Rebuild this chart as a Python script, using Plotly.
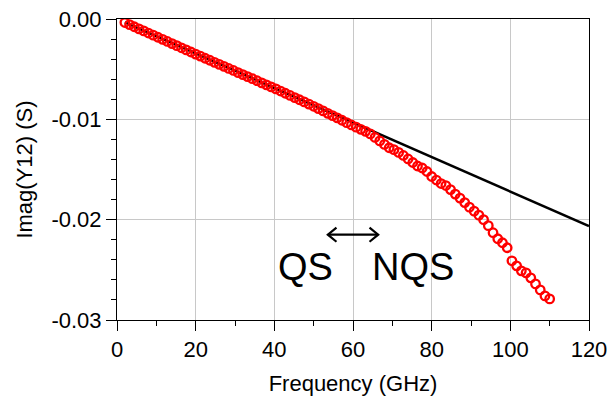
import plotly.graph_objects as go

# ---- data ----
freq_ghz = [2.0, 3.2, 4.4, 5.6, 6.8, 8.0, 9.2, 10.4, 11.6, 12.8,
            14.0, 15.2, 16.4, 17.6, 18.8, 20.0, 21.2, 22.4, 23.6, 24.8,
            26.0, 27.2, 28.4, 29.6, 30.8, 32.0, 33.2, 34.4, 35.6, 36.8,
            38.0, 39.2, 40.4, 41.6, 42.8, 44.0, 45.2, 46.4, 47.6, 48.8,
            50.0, 51.2, 52.4, 53.6, 54.8, 56.0, 57.2, 58.4, 59.6, 60.8,
            62.0, 63.2, 64.4, 65.6, 66.8, 68.0, 69.2, 70.4, 71.6, 72.8,
            74.0, 75.2, 76.4, 77.6, 78.8, 80.0, 81.2, 82.4, 83.6, 84.8,
            86.0, 87.2, 88.4, 89.6, 90.8, 92.0, 93.2, 94.4, 95.6, 96.8,
            98.0, 99.2, 100.4, 101.6, 102.8, 104.0, 105.2, 106.4, 107.6, 108.8,
            110.0]
imag_y12 = [-0.00035, -0.00056, -0.00077, -0.00098, -0.00119, -0.00140, -0.00161, -0.00182, -0.00203, -0.00224,
            -0.00245, -0.00266, -0.00287, -0.00308, -0.00329, -0.00350, -0.00370, -0.00391, -0.00411, -0.00432,
            -0.00452, -0.00472, -0.00493, -0.00513, -0.00534, -0.00554, -0.00574, -0.00595, -0.00615, -0.00636,
            -0.00656, -0.00677, -0.00697, -0.00718, -0.00740, -0.00762, -0.00783, -0.00805, -0.00826, -0.00848,
            -0.00870, -0.00893, -0.00916, -0.00940, -0.00963, -0.00985, -0.01009, -0.01033, -0.01056, -0.01078,
            -0.01100, -0.01120, -0.01145, -0.01180, -0.01215, -0.01250, -0.01283, -0.01302, -0.01330, -0.01360,
            -0.01395, -0.01430, -0.01465, -0.01485, -0.01520, -0.01570, -0.01605, -0.01640, -0.01660, -0.01700,
            -0.01745, -0.01785, -0.01830, -0.01875, -0.01915, -0.01955, -0.02000, -0.02060, -0.02130, -0.02190,
            -0.02230, -0.02280, -0.02410, -0.02460, -0.02510, -0.02530, -0.02580, -0.02640, -0.02700, -0.02760,
            -0.02790]
fit_freq = [2.0, 120.0]
fit_imag = [-0.00034, -0.02064]

x_ticks = [0, 20, 40, 60, 80, 100, 120]
y_ticks = [0.0, -0.01, -0.02, -0.03]
y_tick_labels = ["0.00", "-0.01", "-0.02", "-0.03"]

arrow_x = [53.6, 66.4]
arrow_y = -0.0215

FONT = "Liberation Sans, Arial, sans-serif"

fig = go.Figure()
fig.add_trace(go.Scatter(x=fit_freq, y=fit_imag, mode="lines",
                         line=dict(color="black", width=2.5), showlegend=False))
fig.add_trace(go.Scatter(x=freq_ghz, y=imag_y12, mode="markers",
                         marker=dict(symbol="circle-open", size=8.5, color="#ff0000",
                                     line=dict(width=2.3, color="#ff0000")),
                         showlegend=False))

# double-headed arrow between QS and NQS
hx, hy = 2.2, 0.0007
fig.add_shape(type="line", x0=arrow_x[0], x1=arrow_x[1], y0=arrow_y, y1=arrow_y,
              line=dict(color="black", width=2.2))
fig.add_shape(type="path",
              path=f"M {arrow_x[0]+hx},{arrow_y+hy} L {arrow_x[0]},{arrow_y} L {arrow_x[0]+hx},{arrow_y-hy}",
              line=dict(color="black", width=2.2))
fig.add_shape(type="path",
              path=f"M {arrow_x[1]-hx},{arrow_y+hy} L {arrow_x[1]},{arrow_y} L {arrow_x[1]-hx},{arrow_y-hy}",
              line=dict(color="black", width=2.2))

fig.add_annotation(x=48.0, y=-0.0247, text="QS", showarrow=False,
                   font=dict(family=FONT, size=38, color="black"))
fig.add_annotation(x=75.3, y=-0.0247, text="NQS", showarrow=False,
                   font=dict(family=FONT, size=38, color="black"))

axis_common = dict(showline=True, linecolor="black", linewidth=1, mirror=True,
                   ticks="outside", tickcolor="black", tickwidth=1, ticklen=10,
                   showgrid=True, gridcolor="#c8c8c8", gridwidth=1, zeroline=False,
                   tickfont=dict(family=FONT, size=22, color="black"))

fig.update_xaxes(range=[0, 120], tickvals=x_ticks,
                 title=dict(text="Frequency (GHz)", font=dict(family=FONT, size=22, color="black"),
                            standoff=14),
                 minor=dict(dtick=10, tick0=0, ticks="outside", ticklen=5, tickcolor="black",
                            showgrid=False),
                 **axis_common)
fig.update_yaxes(range=[-0.03, 0], tickvals=y_ticks, ticktext=y_tick_labels,
                 title=dict(text="Imag(Y12) (S)", font=dict(family=FONT, size=22, color="black"),
                            standoff=12),
                 minor=dict(dtick=0.002, tick0=0, ticks="outside", ticklen=5, tickcolor="black",
                            showgrid=False),
                 **axis_common)

fig.update_layout(width=610, height=402,
                  margin=dict(l=117, r=21, t=19, b=82, autoexpand=False),
                  plot_bgcolor="white", paper_bgcolor="white",
                  font=dict(family=FONT, color="black"))

fig.write_html("out.html")
